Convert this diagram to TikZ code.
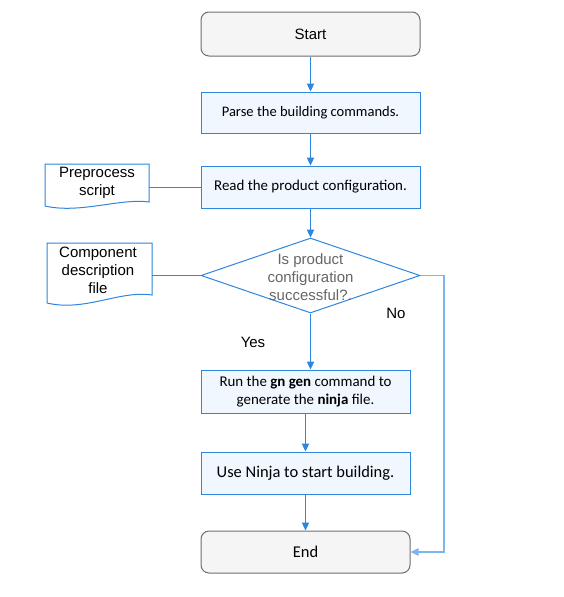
\documentclass[tikz,border=0pt]{standalone}
\usepackage{fontspec}
\setmainfont{Liberation Sans}
\newfontfamily\carlitofont{Carlito}
\usetikzlibrary{arrows.meta,shapes.geometric}
\definecolor{lblue}{HTML}{2E86DE}
\definecolor{nblue}{HTML}{7DB5EE}
\definecolor{bfill}{HTML}{F0F7FE}
\definecolor{gfill}{HTML}{F5F5F5}
\definecolor{gline}{HTML}{6E6E6E}
\definecolor{dtext}{HTML}{666666}
\tikzset{
  termbox/.style={draw=gline, fill=gfill, rounded corners=6pt, line width=0.75pt, font=\fontsize{11.25}{13}\selectfont, inner sep=0pt},
  procbox/.style={draw=lblue, fill=bfill, line width=0.75pt, font=\carlitofont\fontsize{11.2}{14}\selectfont, inner sep=0pt, align=center},
  decbox/.style={draw=lblue, fill=white, diamond, line width=0.75pt, inner sep=0pt, minimum width=164.25pt, minimum height=56.25pt},
  doctext/.style={font=\fontsize{11.25}{13.5}\selectfont, align=center, inner sep=0pt},
  flow/.style={draw=lblue, line width=0.75pt, -{Triangle[length=6pt,width=5.5pt]}},
  plain/.style={draw=lblue, line width=0.75pt},
  docshape/.style={draw=lblue, fill=white, line width=0.75pt},
  lbl/.style={font=\fontsize{11.25}{13}\selectfont, inner sep=0pt}
}
\begin{document}
\begin{tikzpicture}[x=0.75pt,y=-0.75pt]
\useasboundingbox (0,0) rectangle (564,597);
% nodes
\node[termbox, minimum width=164.25pt, minimum height=33pt] (start) at (310.5,34) {Start};
\node[procbox, minimum width=164.25pt, minimum height=30.75pt, font=\carlitofont\fontsize{10.9}{14}\selectfont] (parse) at (310.5,112.5) {Parse the building commands.};
\node[procbox, minimum width=164.25pt, minimum height=31.5pt] (read) at (310.5,187) {Read the product configuration.};
\node[decbox] (dec) at (310.5,275.5) {};
\node[font=\fontsize{11.25}{13.5}\selectfont, text=dtext, align=center, inner sep=0pt] (dectext) at (310.5,277) {Is product\\configuration\\successful?.};
\node[procbox, minimum width=156.75pt, minimum height=32.25pt] (run) at (305.5,391.5) {Run the \textbf{gn gen} command to\\generate the \textbf{ninja} file.};
\node[procbox, minimum width=156.75pt, minimum height=31.5pt, font=\carlitofont\fontsize{12.35}{14}\selectfont] (ninja) at (305.5,473) {Use Ninja to start building.};
\node[termbox, minimum width=156.75pt, minimum height=31.5pt, font=\carlitofont\fontsize{12.35}{14}\selectfont] (end) at (305.5,552) {End};
% documents
\draw[docshape] (45,164) -- (149,164) -- (149,202) .. controls (120,198) and (80,214) .. (45,206) -- cycle;
\coordinate (pre) at (149,187);
\node[doctext] (pretext) at (97,183) {Preprocess\\script};
\draw[docshape] (47,243) -- (152,243) -- (152,295) .. controls (120,290) and (85,312) .. (47,303) -- cycle;
\coordinate (comp) at (152,275.5);
\node[doctext] (comptext) at (98,270) {Component\\description\\file};
% connectors
\draw[flow] (start) -- (parse);
\draw[flow] (parse) -- (read);
\draw[flow] (read) -- (dec);
\draw[plain] (pre) -- (read.west);
\draw[plain] (comp) -- (dec.west);
\draw[flow] (dec.south) -- (dec.south |- run.north);
\draw[flow] (run) -- (ninja);
\draw[flow] (ninja) -- (end);
\coordinate (nocorner1) at (444,275.5);
\coordinate (nocorner2) at (444,552);
\draw[draw=nblue, line width=1pt, -{Triangle[length=6pt,width=5.5pt]}] (dec.east) -- (nocorner1) -- (nocorner2) -- (end.east);
\node[lbl] (no) at (396,313) {No};
\node[lbl] (yes) at (253,342) {Yes};
\end{tikzpicture}
\end{document}
